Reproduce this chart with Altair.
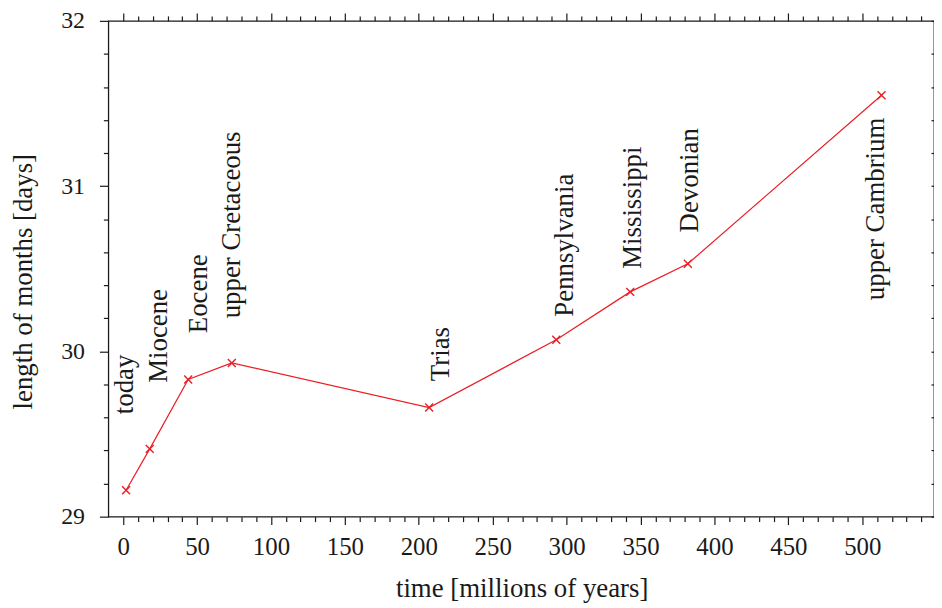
import altair as alt
import pandas as pd

# data
eras = ["today", "Miocene", "Eocene", "upper Cretaceous", "Trias",
        "Pennsylvania", "Mississippi", "Devonian", "upper Cambrium"]
ages = [2, 18, 44, 73.5, 207, 293, 343, 382, 513]
month_len = [29.16, 29.41, 29.83, 29.93, 29.66, 30.07, 30.36, 30.53, 31.55]
# anchor of each rotated era label (data units)
label_x = [6.7, 29.6, 56.5, 79.3, 220.2, 304.4, 350.1, 389.1, 514.8]
label_y = [29.62, 29.81, 30.11, 30.20, 29.82, 30.21, 30.50, 30.72, 30.31]

x_ticks = list(range(0, 550, 10))
y_ticks = [round(29 + 0.2 * i, 1) for i in range(16)]
x_domain = [-10, 548.5]
y_domain = [29, 32]

df = pd.DataFrame({"age": ages, "len": month_len})
lab = pd.DataFrame({"era": eras, "lx": label_x, "ly": label_y})

FONT = "Liberation Serif"
INK = "#1a1a1a"
RED = "#ec1c24"

x_major = "datum.value % 50 === 0"
y_major = "abs(datum.value - round(datum.value)) < 0.001"

x_bottom = alt.X(
    "age:Q",
    scale=alt.Scale(domain=x_domain, nice=False, zero=False),
    axis=alt.Axis(
        orient="bottom", values=x_ticks, grid=False, domain=False,
        labelExpr=f"{x_major} ? format(datum.value, 'd') : ''",
        tickSize={"condition": {"test": x_major, "value": 8}, "value": 5},
        tickColor=INK, tickWidth=1.2, labelFont=FONT, labelFontSize=25,
        labelColor=INK, labelBaseline="alphabetic", labelPadding=30,
        labelFlush=False, labelOverlap=False,
        title="time [millions of years]", titleFont=FONT, titleFontSize=27,
        titleFontWeight="normal", titleColor=INK, titleBaseline="alphabetic",
        titleX=416, titleY=80, titleAlign="center",
    ),
)
y_left = alt.Y(
    "len:Q",
    scale=alt.Scale(domain=y_domain, nice=False, zero=False),
    axis=alt.Axis(
        orient="left", values=y_ticks, grid=False, domain=False,
        labelExpr=f"{y_major} ? format(datum.value, 'd') : ''",
        tickSize={"condition": {"test": y_major, "value": 9}, "value": 5},
        tickColor=INK, tickWidth=1.2, labelFont=FONT, labelFontSize=24,
        labelColor=INK, labelPadding=15, labelFlush=False, labelOverlap=False,
        labelBaseline="middle",
        title="length of months [days]", titleFont=FONT, titleFontSize=27,
        titleFontWeight="normal", titleColor=INK, titleAngle=270,
        titleBaseline="alphabetic", titleAlign="center",
        titleX=-77, titleY=262,
    ),
)

line = alt.Chart(df).mark_line(color=RED, strokeWidth=1.2).encode(
    x=x_bottom, y=y_left
)

pts = alt.Chart(df).mark_point(
    shape="M-1,-1L1,1M-1,1L1,-1", filled=False, color=RED,
    strokeWidth=1.4, size=64, opacity=1,
).encode(
    x=alt.X("age:Q", scale=alt.Scale(domain=x_domain, nice=False, zero=False),
            axis=alt.Axis(orient="top", values=x_ticks, grid=False, domain=False,
                          labels=False, title=None, tickColor=INK, tickWidth=1.2,
                          tickSize={"condition": {"test": x_major, "value": 8}, "value": 5})),
    y=alt.Y("len:Q", scale=alt.Scale(domain=y_domain, nice=False, zero=False),
            axis=alt.Axis(orient="right", values=y_ticks, grid=False, domain=False,
                          labels=False, title=None, tickColor=INK, tickWidth=1.2,
                          tickSize=3, offset=-3)),
)

texts = alt.Chart(lab).mark_text(
    angle=270, align="left", baseline="alphabetic",
    font=FONT, fontSize=27, color=INK,
).encode(
    x=alt.X("lx:Q", scale=alt.Scale(domain=x_domain, nice=False, zero=False), axis=None),
    y=alt.Y("ly:Q", scale=alt.Scale(domain=y_domain, nice=False, zero=False), axis=None),
    text="era:N",
)

chart = alt.layer(line, pts, texts).resolve_axis(
    x="independent", y="independent"
).properties(
    width=831, height=499,
    autosize=alt.AutoSizeParams(type="none"),
    padding={"left": 101, "top": 11, "right": 0, "bottom": 88},
).configure_view(stroke=INK, strokeWidth=1.3)

chart.save("out.html", embed_options={"renderer": "svg", "actions": False})
